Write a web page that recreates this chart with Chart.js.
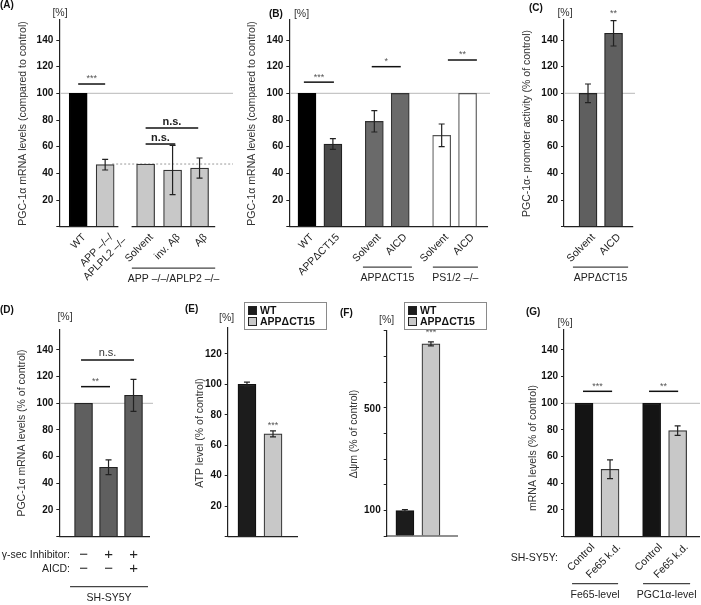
<!DOCTYPE html>
<html>
<head>
<meta charset="utf-8">
<title>PGC-1α figure</title>
<script src="https://cdn.jsdelivr.net/npm/chart.js@4/dist/chart.umd.min.js"></script>
<style>
  body { margin: 0; background: #fff; }
  #wrap { position: relative; width: 701px; height: 605px; overflow: hidden; }
  #wrap canvas { position: absolute; left: 0; top: 0; }
</style>
</head>
<body>
<div id="wrap">
  <canvas id="pA" width="701" height="605"></canvas>
  <canvas id="pB" width="701" height="605"></canvas>
  <canvas id="pC" width="701" height="605"></canvas>
  <canvas id="pD" width="701" height="605"></canvas>
  <canvas id="pE" width="701" height="605"></canvas>
  <canvas id="pF" width="701" height="605"></canvas>
  <canvas id="pG" width="701" height="605"></canvas>
</div>
<script>
// ---- data ----
// (A)
const aLabels = [["WT"], ["APP –/–/", "APLPL2 –/–"], ["Solvent"], ["inv. Aβ"], ["Aβ"]];
const aValues = [100, 46.5, 47, 42.5, 44];
const aErrors = [0, 4, 0, 18.5, 7.5];
const aSig = ["***", "n.s.", "n.s."];
const aSigLevel = [107, 74, 62];
// (B)
const bLabels = [["WT"], ["APPΔCT15"], ["Solvent"], ["AICD"], ["Solvent"], ["AICD"]];
const bValues = [100, 62, 79, 100, 68.5, 100];
const bErrors = [0, 4, 8, 0, 8.5, 0];
const bSig = ["***", "*", "**"];
const bSigLevel = [108.4, 120, 125];
// (C)
const cLabels = [["Solvent"], ["AICD"]];
const cValues = [100, 145];
const cErrors = [7, 9.5];
// (D)
const dInhibitor = ["−", "+", "+"];
const dAicd = ["−", "−", "+"];
const dValues = [100, 52, 106];
const dErrors = [0, 5.5, 12];
const dSig = ["**", "n.s."];
const dSigLevel = [112.5, 132.5];
// (E)
const eSeries = ["WT", "APPΔCT15"];
const eValues = [100, 67.5];
const eErrors = [1.5, 2];
// (F)
const fValues = [100, 758];
const fErrors = [4, 8];
const fTickLabels = [100, 500];
// (G)
const gLabels = [["Control"], ["Fe65 k.d."], ["Control"], ["Fe65 k.d."]];
const gValues = [100, 50.5, 100, 79.5];
const gErrors = [0, 7, 0, 3.5];
const gSig = ["***", "**"];
const gSigLevel = [109, 109];

// ---- drawing helpers ----
const W = 701, H = 605, YW = 40;
const FONT = '"Liberation Sans", Arial, Helvetica, sans-serif';
const DECO = {};
Chart.defaults.font.family = FONT;

function font(size, weight) { return (weight || 'normal') + ' ' + size + 'px ' + FONT; }

function text(ctx, s, x, y, size, o) {
  o = o || {};
  ctx.save();
  ctx.font = font(size, o.weight);
  ctx.fillStyle = o.color || '#222';
  ctx.textAlign = o.align || 'center';
  ctx.textBaseline = 'middle';
  ctx.translate(x, y);
  if (o.rot) ctx.rotate(o.rot);
  ctx.fillText(s, 0, 0);
  ctx.restore();
}

function hline(ctx, x0, x1, y, color, width, dash) {
  ctx.save();
  ctx.strokeStyle = color;
  ctx.lineWidth = width;
  if (dash) ctx.setLineDash(dash);
  ctx.beginPath();
  ctx.moveTo(x0, y);
  ctx.lineTo(x1, y);
  ctx.stroke();
  ctx.restore();
}

const deco = {
  id: 'deco',
  beforeDatasetsDraw(chart) {
    const d = DECO[chart.canvas.id];
    const ctx = chart.ctx, a = chart.chartArea, x = chart.scales.x, y = chart.scales.y;
    if (d.ref != null) hline(ctx, a.left + 1, a.right, y.getPixelForValue(d.ref), '#c6c6c6', 1.2);
    if (d.dotted) hline(ctx, x.getPixelForValue(d.dotted.from), a.right, y.getPixelForValue(d.dotted.y), '#9a9a9a', 1, [2, 2]);
  },
  afterDatasetsDraw(chart) {
    const d = DECO[chart.canvas.id];
    const ctx = chart.ctx, a = chart.chartArea, x = chart.scales.x, y = chart.scales.y;
    const meta = chart.getDatasetMeta(0);

    // baseline segments
    d.base.forEach(s => hline(ctx, x.getPixelForValue(s[0]), x.getPixelForValue(s[1]), a.bottom, '#222', 1.2));

    // error bars
    ctx.save();
    ctx.strokeStyle = '#222';
    ctx.lineWidth = 1.2;
    d.err.forEach((e, i) => {
      if (!e) return;
      const bx = meta.data[i].x, v = d.values[i];
      const y1 = y.getPixelForValue(v + e), y2 = y.getPixelForValue(v - e);
      ctx.beginPath();
      ctx.moveTo(bx, y1); ctx.lineTo(bx, y2);
      ctx.moveTo(bx - 3, y1); ctx.lineTo(bx + 3, y1);
      ctx.moveTo(bx - 3, y2); ctx.lineTo(bx + 3, y2);
      ctx.stroke();
    });
    ctx.restore();

    // significance marks
    (d.sig || []).forEach(s => {
      const yy = y.getPixelForValue(s.v);
      const x0 = x.getPixelForValue(s.x0), x1 = x.getPixelForValue(s.x1);
      if (s.x1 !== s.x0) hline(ctx, x0, x1, yy, '#111', 1.5);
      text(ctx, s.text, (x0 + x1) / 2, yy - (s.gap || 5), s.size || 9, { weight: s.weight, color: s.color || '#555' });
    });

    // manual y tick labels (used where only some ticks carry a label)
    (d.yLabels || []).forEach(v => {
      text(ctx, String(v), a.left - 6, y.getPixelForValue(v), 10, { weight: 'bold', align: 'right', color: '#111' });
    });

    // rotated category labels
    (d.xLabels || []).forEach((lines, i) => {
      const px = x.getPixelForValue(d.pos[i]) + d.ldx, py = a.bottom + d.ldy;
      ctx.save();
      ctx.translate(px, py);
      ctx.rotate(-Math.PI / 4);
      ctx.font = font(10.5);
      ctx.fillStyle = '#222';
      ctx.textBaseline = 'middle';
      const w0 = ctx.measureText(lines[0]).width;
      lines.forEach((ln, k) => {
        ctx.textAlign = k === 0 ? 'right' : 'center';
        ctx.fillText(ln, k === 0 ? 0 : -w0 / 2, k * 12);
      });
      ctx.restore();
    });

    // D: +/- rows
    (d.rows || []).forEach(r => {
      const yy = a.bottom + r.dy;
      text(ctx, r.label, r.lx, yy, 10.5, { align: 'right' });
      r.marks.forEach((m, i) => text(ctx, m, x.getPixelForValue(d.pos[i]), yy, 15));
    });

    // group underlines
    (d.groups || []).forEach(g => {
      const x0 = x.getPixelForValue(g.x0), x1 = x.getPixelForValue(g.x1);
      hline(ctx, x0, x1, a.bottom + d.gdy, '#444', 1.3);
      text(ctx, g.text, (x0 + x1) / 2, a.bottom + d.gty, 10.5);
    });

    // legend box
    if (d.legend) {
      const L = d.legend;
      ctx.save();
      ctx.strokeStyle = '#8a8a8a';
      ctx.lineWidth = 1;
      ctx.strokeRect(L.x + 0.5, L.y + 0.5, L.w, L.h);
      L.items.forEach((it, k) => {
        const cy = L.y + 8.5 + k * 11;
        ctx.fillStyle = it[1];
        ctx.fillRect(L.x + 4.5, cy - 4, 8, 8);
        ctx.strokeStyle = '#222';
        ctx.strokeRect(L.x + 4.5, cy - 4, 8, 8);
        text(ctx, it[0], L.x + 16, cy + 0.5, 10.5, { weight: 'bold', align: 'left', color: '#111' });
      });
      ctx.restore();
    }

    (d.extra || []).forEach(t => text(ctx, t.text, t.x, t.y, 10.5, { align: t.align }));

    text(ctx, d.letter.text, d.letter.x, d.letter.y, 10, { weight: 'bold', align: 'left', color: '#111' });
    text(ctx, '[%]', d.unit.x, d.unit.y, 10.5, { color: '#333' });
    text(ctx, d.yTitle.text, d.yTitle.x, d.yTitle.y, 10.5, { rot: -Math.PI / 2, color: '#333' });
  }
};

function makePanel(id, spec) {
  DECO[id] = spec;
  const a = spec.area;
  new Chart(document.getElementById(id), {
    type: 'bar',
    data: {
      datasets: [{
        data: spec.values.map((v, i) => ({ x: spec.pos[i], y: v })),
        backgroundColor: spec.fill,
        borderColor: spec.stroke,
        borderWidth: 1.2,
        barThickness: 18,
        borderSkipped: 'start'
      }]
    },
    options: {
      responsive: false,
      animation: false,
      events: [],
      layout: { padding: { left: a.l - YW, top: a.t, right: W - a.r, bottom: H - a.b } },
      plugins: { legend: { display: false }, tooltip: { enabled: false } },
      scales: {
        x: { type: 'linear', display: false, min: spec.xMin, max: spec.xMax, offset: false },
        y: {
          min: 0,
          max: spec.yMax,
          afterFit: s => { s.width = YW; },
          border: { display: true, color: '#222', width: 1.2 },
          grid: { drawOnChartArea: false, drawTicks: true, tickLength: 3, color: '#222' },
          ticks: {
            stepSize: spec.step || 20,
            includeBounds: false,
            autoSkip: false,
            padding: 3,
            color: '#111',
            font: { size: 10, weight: 'bold' },
            callback: v => (spec.yLabels ? '' : (v > 0 ? v : ''))
          }
        }
      }
    },
    plugins: [deco]
  });
}

const LIGHT = '#c8c8c8';

// (A)
makePanel('pA', {
  area: { l: 59.3, t: 20, r: 233, b: 226.7 }, yMax: 155, xMin: -0.7, xMax: 5.74,
  pos: [0, 1, 2.5, 3.5, 4.5], values: aValues, err: aErrors,
  fill: ['#000', LIGHT, LIGHT, LIGHT, LIGHT], stroke: ['#000', '#333', '#333', '#333', '#333'],
  ref: 100, dotted: { y: 47, from: 1.26 },
  base: [[-0.7, 1.49], [1.98, 5.08]],
  sig: [
    { x0: 0, x1: 1, v: aSigLevel[0], text: aSig[0] },
    { x0: 2.5, x1: 4.45, v: aSigLevel[1], text: aSig[1], size: 11, weight: 'bold', color: '#222', gap: 6.5 },
    { x0: 2.5, x1: 3.6, v: aSigLevel[2], text: aSig[2], size: 11, weight: 'bold', color: '#222', gap: 6.5 }
  ],
  xLabels: aLabels, ldx: 6, ldy: 9,
  groups: [{ x0: 1.99, x1: 5.08, text: 'APP –/–/APLP2 –/–' }], gdy: 41.5, gty: 52,
  letter: { text: '(A)', x: 0, y: 5 }, unit: { x: 60, y: 13.5 },
  yTitle: { text: 'PGC-1α mRNA levels (compared to control)', x: 23, y: 123.5 }
});

// (B)
makePanel('pB', {
  area: { l: 289.3, t: 20, r: 490, b: 226.7 }, yMax: 155, xMin: -0.683, xMax: 7.066,
  pos: [0, 1, 2.6, 3.6, 5.2, 6.2], values: bValues, err: bErrors,
  fill: ['#000', '#4a4a4a', '#6a6a6a', '#6a6a6a', '#fff', '#fff'],
  stroke: ['#000', '#222', '#333', '#333', '#555', '#555'],
  ref: 100,
  base: [[-0.683, 6.99]],
  sig: [
    { x0: -0.12, x1: 1.04, v: bSigLevel[0], text: bSig[0] },
    { x0: 2.5, x1: 3.62, v: bSigLevel[1], text: bSig[1] },
    { x0: 5.44, x1: 6.56, v: bSigLevel[2], text: bSig[2] }
  ],
  xLabels: bLabels, ldx: 5, ldy: 9,
  groups: [{ x0: 2.16, x1: 4.05, text: 'APPΔCT15' }, { x0: 4.86, x1: 6.6, text: 'PS1/2 –/–' }], gdy: 40.5, gty: 51.5,
  letter: { text: '(B)', x: 269, y: 14 }, unit: { x: 301.5, y: 14 },
  yTitle: { text: 'PGC-1α mRNA levels (compared to control)', x: 252, y: 123.5 }
});

// (C)
makePanel('pC', {
  area: { l: 564, t: 20, r: 635, b: 226.7 }, yMax: 155, xMin: -0.94, xMax: 1.84,
  pos: [0, 1], values: cValues, err: cErrors,
  fill: ['#5f5f5f', '#5f5f5f'], stroke: ['#222', '#222'],
  ref: 100,
  base: [[-0.94, 1.77]],
  sig: [{ x0: 1, x1: 1, v: 160, text: '**', gap: 0.01 }],
  xLabels: cLabels, ldx: 5.5, ldy: 9,
  groups: [{ x0: -0.59, x1: 1.57, text: 'APPΔCT15' }], gdy: 40.5, gty: 51.5,
  letter: { text: '(C)', x: 529, y: 8 }, unit: { x: 565, y: 13.5 },
  yTitle: { text: 'PGC-1α- promoter activity (% of control)', x: 527, y: 123.5 }
});

// (D)
makePanel('pD', {
  area: { l: 59.3, t: 330, r: 153, b: 536.6 }, yMax: 155, xMin: -0.97, xMax: 2.78,
  pos: [0, 1, 2], values: dValues, err: dErrors,
  fill: ['#5f5f5f', '#5f5f5f', '#5f5f5f'], stroke: ['#222', '#222', '#222'],
  ref: 100,
  base: [[-0.97, 2.66]],
  sig: [
    { x0: -0.1, x1: 1.06, v: dSigLevel[0], text: dSig[0] },
    { x0: -0.1, x1: 2.02, v: dSigLevel[1], text: dSig[1], size: 11, color: '#333', gap: 7 }
  ],
  rows: [
    { label: 'γ-sec Inhibitor:', lx: 70, dy: 18.4, marks: dInhibitor },
    { label: 'AICD:', lx: 70, dy: 32.7, marks: dAicd }
  ],
  groups: [{ x0: -0.54, x1: 2.58, text: 'SH-SY5Y' }], gdy: 50, gty: 61.5,
  letter: { text: '(D)', x: 0, y: 310.5 }, unit: { x: 65, y: 317.5 },
  yTitle: { text: 'PGC-1α mRNA levels (% of control)', x: 22, y: 433 }
});

// (E)
makePanel('pE', {
  area: { l: 227.7, t: 328, r: 298, b: 536.6 }, yMax: 137, xMin: -0.74, xMax: 1.96,
  pos: [0, 1], values: eValues, err: eErrors,
  fill: ['#1c1c1c', LIGHT], stroke: ['#111', '#333'],
  base: [[-0.74, 1.96]],
  sig: [{ x0: 1, x1: 1, v: 73, text: '***', gap: 0.01 }],
  legend: { x: 244, y: 302, w: 82, h: 27, items: [[eSeries[0], '#1c1c1c'], [eSeries[1], LIGHT]] },
  letter: { text: '(E)', x: 185, y: 309 }, unit: { x: 226.7, y: 318.3 },
  yTitle: { text: 'ATP level (% of control)', x: 200, y: 433 }
});

// (F)
makePanel('pF', {
  area: { l: 386.7, t: 330.7, r: 458, b: 536 }, yMax: 810, xMin: -0.70, xMax: 2.04,
  pos: [0, 1], values: fValues, err: fErrors, step: 100, yLabels: fTickLabels,
  fill: ['#1c1c1c', LIGHT], stroke: ['#111', '#333'],
  base: [[-0.70, 2.04]],
  sig: [{ x0: 1, x1: 1, v: 801, text: '***', gap: 0.01 }],
  legend: { x: 404, y: 302, w: 82, h: 27, items: [[eSeries[0], '#1c1c1c'], [eSeries[1], LIGHT]] },
  letter: { text: '(F)', x: 340, y: 313.5 }, unit: { x: 386.7, y: 320 },
  yTitle: { text: 'Δψm (% of control)', x: 354, y: 434 }
});

// (G)
makePanel('pG', {
  area: { l: 564, t: 330, r: 700, b: 536.6 }, yMax: 155, xMin: -0.77, xMax: 4.46,
  pos: [0, 1, 2.6, 3.6], values: gValues, err: gErrors,
  fill: ['#141414', LIGHT, '#141414', LIGHT], stroke: ['#111', '#333', '#111', '#333'],
  ref: 100,
  base: [[-0.77, 4.46]],
  sig: [
    { x0: -0.04, x1: 1.08, v: gSigLevel[0], text: gSig[0] },
    { x0: 2.5, x1: 3.62, v: gSigLevel[1], text: gSig[1] }
  ],
  xLabels: gLabels, ldx: 9, ldy: 9,
  groups: [{ x0: -0.46, x1: 1.31, text: 'Fe65-level' }, { x0: 2.27, x1: 4.08, text: 'PGC1α-level' }], gdy: 47, gty: 58.5,
  extra: [{ text: 'SH-SY5Y:', x: 558, y: 558, align: 'right' }],
  letter: { text: '(G)', x: 526, y: 312.5 }, unit: { x: 565, y: 323.3 },
  yTitle: { text: 'mRNA levels (% of control)', x: 533, y: 448 }
});
</script>
</body>
</html>
